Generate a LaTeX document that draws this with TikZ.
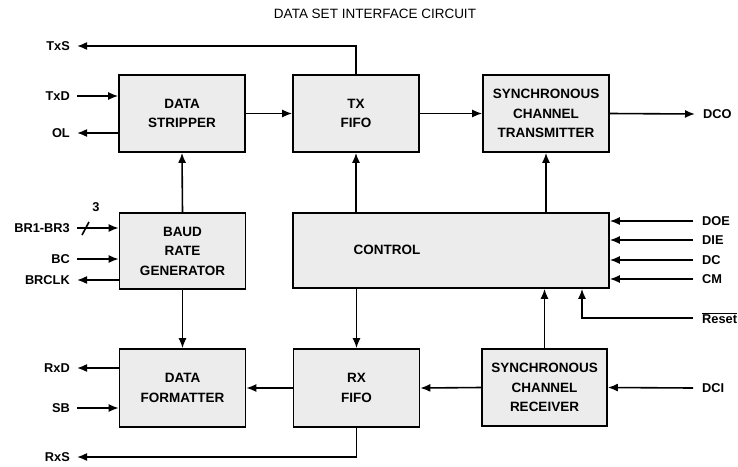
\documentclass[tikz,border=0pt]{standalone}
\usepackage{fontspec}
\setmainfont{Liberation Sans}
\usetikzlibrary{arrows.meta}
\begin{document}
\begin{tikzpicture}[x=1pt,y=-1pt,
  blk/.style={draw,line width=1.6pt,fill=gray!15,minimum width=126pt,minimum height=77pt,
    align=center,font=\fontsize{13.5}{19.5}\selectfont\bfseries,inner sep=0pt},
  lbl/.style={font=\fontsize{12.8}{15}\selectfont\bfseries,inner sep=0pt},
  arr/.style={line width=1.6pt,-{Latex[length=10pt,width=8pt]}},
  ln/.style={line width=1.6pt}]
\useasboundingbox (0,0) rectangle (738,466);
\node[font=\fontsize{13.5}{15}\selectfont] (title) at (375,14) {DATA SET INTERFACE CIRCUIT};
% blocks
\node[blk] (ds) at (182,113.5) {DATA\\STRIPPER};
\node[blk] (txf) at (356,113.5) {TX\\FIFO};
\node[blk] (stx) at (546,113.5) {SYNCHRONOUS\\CHANNEL\\TRANSMITTER};
\node[blk,minimum height=76pt] (brg) at (182.5,251) {BAUD\\RATE\\GENERATOR};
\node[blk,minimum width=316pt,minimum height=75pt] (ctl) at (451,250.5) {};
\node[lbl,font=\fontsize{13.5}{15}\selectfont\bfseries] (ctltxt) at (387,250) {CONTROL};
\node[blk,minimum height=78pt] (df) at (182.5,388) {DATA\\FORMATTER};
\node[blk,minimum height=78pt] (rxf) at (356.5,388) {RX\\FIFO};
\node[blk,minimum width=125pt] (srx) at (544.5,387.5) {SYNCHRONOUS\\CHANNEL\\RECEIVER};
% free ends
\coordinate (txs) at (77,46);
\coordinate (txd) at (77,96);
\coordinate (ol) at (77,133);
\coordinate (dco) at (695,114);
\coordinate (br) at (77,228);
\coordinate (bc) at (77,259);
\coordinate (brclk) at (77,280);
\coordinate (rxd) at (77,368);
\coordinate (sb) at (77,408);
\coordinate (rxs) at (77,457);
\coordinate (doe) at (693,221);
\coordinate (die) at (693,240);
\coordinate (dc) at (693,260);
\coordinate (cm) at (693,279);
\coordinate (rst) at (693,318);
\coordinate (rstc) at (582,318);
\coordinate (dci) at (693,388);
% labels
\node[lbl,anchor=east] (ltxs) at (70,46) {TxS};
\node[lbl,anchor=east] (ltxd) at (70,96) {TxD};
\node[lbl,anchor=east] (lol) at (70,133) {OL};
\node[lbl,anchor=west] (ldco) at (703,114) {DCO};
\node[lbl,anchor=east] (lbr) at (70,228) {BR1-BR3};
\node[lbl] (lthree) at (96,207) {3};
\node[lbl,anchor=east] (lbc) at (70,259) {BC};
\node[lbl,anchor=east] (lbrclk) at (70,280) {BRCLK};
\node[lbl,anchor=east] (lrxd) at (70,368) {RxD};
\node[lbl,anchor=east] (lsb) at (70,408) {SB};
\node[lbl,anchor=east] (lrxs) at (70,457) {RxS};
\node[lbl,anchor=west] (ldoe) at (702,221) {DOE};
\node[lbl,anchor=west] (ldie) at (702,240) {DIE};
\node[lbl,anchor=west] (ldc) at (702,260) {DC};
\node[lbl,anchor=west] (lcm) at (702,279) {CM};
\node[lbl,anchor=west] (lrst) at (702,318) {$\overline{\mbox{\bfseries Reset}}$};
\node[lbl,anchor=west] (ldci) at (702,388) {DCI};
% connectors
\draw[arr] (txf.north) |- (txs);
\draw[arr] (txd) -- (txd -| ds.west);
\draw[arr] (ol -| ds.west) -- (ol);
\draw[arr] (ds.east) -- (txf.west);
\draw[arr] (txf.east) -- (stx.west);
\draw[arr] (stx.east) -- (dco);
\draw[arr] (brg.north) -- (ds.south);
\draw[arr] (ctl.north -| txf.north) -- (txf.south);
\draw[arr] (ctl.north -| stx.south) -- (stx.south);
\draw[arr] (br) -- (br -| brg.west);
\draw[ln] (82,235) -- (89,222);
\draw[arr] (bc) -- (bc -| brg.west);
\draw[arr] (brclk -| brg.west) -- (brclk);
\draw[arr] (brg.south) -- (df.north);
\draw[arr] (ctl.south -| rxf.north) -- (rxf.north);
\draw[arr] (rxf.west) -- (df.east);
\draw[arr] (srx.west) -- (rxf.east);
\draw[arr] (srx.north) -- (srx.north |- ctl.south);
\draw[arr] (dci) -- (srx.east);
\draw[arr] (rxd -| df.west) -- (rxd);
\draw[arr] (sb) -- (sb -| df.west);
\draw[arr] (rxf.south) |- (rxs);
\draw[arr] (doe) -- (doe -| ctl.east);
\draw[arr] (die) -- (die -| ctl.east);
\draw[arr] (dc) -- (dc -| ctl.east);
\draw[arr] (cm) -- (cm -| ctl.east);
\draw[arr] (rst) -- (rstc) -- (rstc |- ctl.south);
\end{tikzpicture}
\end{document}
